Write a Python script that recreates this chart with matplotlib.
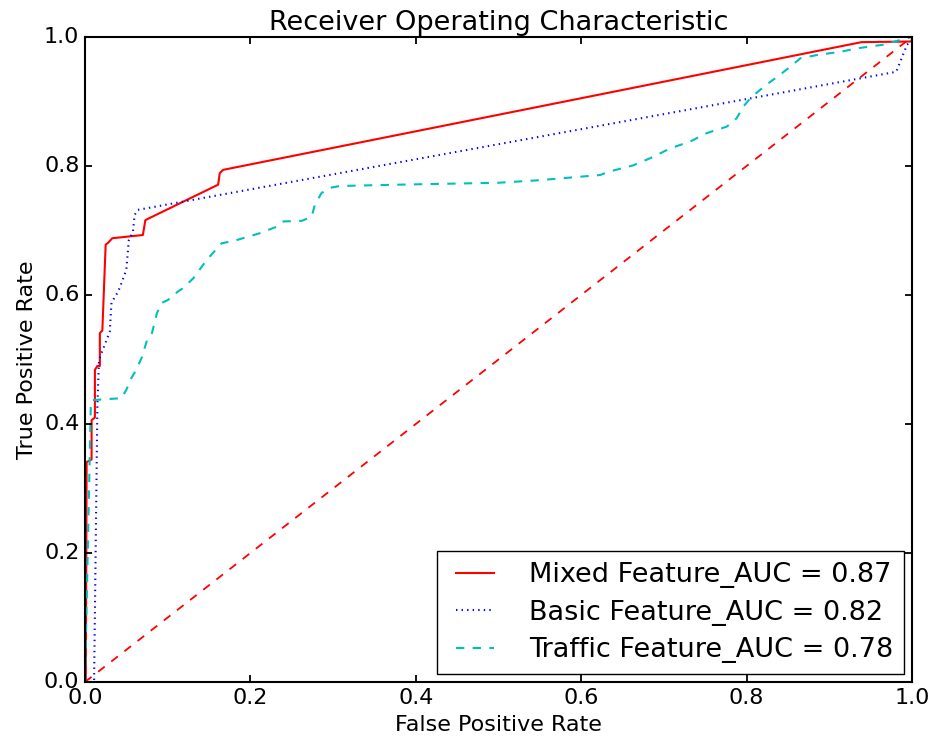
import matplotlib
matplotlib.use("Agg")
import matplotlib.pyplot as plt

plt.style.use("classic")

# ── ROC data ─────────────────────────────────────────────────
mixed_fpr = [0.0, 0.001, 0.002, 0.008, 0.008, 0.012, 0.012, 0.015, 0.018, 0.018,
             0.021, 0.025, 0.028, 0.033, 0.070, 0.073, 0.076, 0.161, 0.163, 0.167,
             0.939, 1.0, 1.0]
mixed_tpr = [0.0, 0.0, 0.341, 0.345, 0.406, 0.410, 0.484, 0.490, 0.490, 0.541,
             0.545, 0.678, 0.681, 0.688, 0.693, 0.716, 0.718, 0.771, 0.789, 0.794,
             0.992, 0.993, 1.0]

basic_fpr = [0.0, 0.011, 0.015, 0.017, 0.020, 0.030, 0.032, 0.040, 0.044, 0.050,
             0.053, 0.058, 0.060, 0.064, 0.981, 0.994, 1.0]
basic_tpr = [0.0, 0.0, 0.430, 0.500, 0.510, 0.543, 0.588, 0.605, 0.618, 0.639,
             0.685, 0.698, 0.724, 0.732, 0.946, 0.988, 0.995]

traffic_fpr = [0.0, 0.007, 0.008, 0.044, 0.050, 0.056, 0.062, 0.069, 0.075, 0.081,
               0.087, 0.093, 0.100, 0.112, 0.119, 0.131, 0.147, 0.165, 0.183, 0.212,
               0.232, 0.240, 0.262, 0.274, 0.278, 0.286, 0.296, 0.308, 0.377, 0.500,
               0.550, 0.623, 0.633, 0.663, 0.687, 0.707, 0.732, 0.752, 0.776, 0.788,
               0.796, 0.806, 0.824, 0.840, 0.856, 0.865, 0.885, 0.913, 0.937, 0.965,
               0.985, 1.0]
traffic_tpr = [0.0, 0.426, 0.437, 0.440, 0.453, 0.471, 0.484, 0.504, 0.530, 0.541,
               0.572, 0.588, 0.592, 0.605, 0.611, 0.626, 0.654, 0.680, 0.685, 0.696,
               0.706, 0.714, 0.715, 0.721, 0.740, 0.758, 0.766, 0.769, 0.771, 0.774,
               0.778, 0.786, 0.791, 0.801, 0.814, 0.827, 0.838, 0.851, 0.861, 0.874,
               0.892, 0.907, 0.926, 0.941, 0.957, 0.967, 0.972, 0.977, 0.983, 0.988,
               0.995, 1.0]

labels = ["Mixed Feature_AUC = 0.87", "Basic Feature_AUC = 0.82",
          "Traffic Feature_AUC = 0.78"]

fig = plt.figure(figsize=(9.39, 7.44), dpi=100, facecolor="white")
ax = fig.add_axes([0.0905, 0.0833, 0.8807, 0.8670])

ax.plot(mixed_fpr, mixed_tpr, "r-", lw=1.5, label=labels[0])
ax.plot(basic_fpr, basic_tpr, "b:", lw=1.5, label=labels[1])
ax.plot(traffic_fpr, traffic_tpr, "c--", lw=1.5, label=labels[2])
ax.plot([0, 1], [0, 1], "r--", lw=1.3)

ax.set_xlim(0, 1)
ax.set_ylim(0, 1)
ax.set_title("Receiver Operating Characteristic", fontsize=19.5)
ax.set_xlabel("False Positive Rate", fontsize=16)
ax.set_ylabel("True Positive Rate", fontsize=16)
ax.tick_params(labelsize=16, width=1.3, length=5)
for s in ax.spines.values():
    s.set_linewidth(1.5)
ax.legend(loc="lower right", fontsize=19.5, handlelength=2.0,
          handletextpad=1.0, labelspacing=0.42, borderaxespad=0.3)

plt.savefig("out.png", dpi=100, facecolor="white")
